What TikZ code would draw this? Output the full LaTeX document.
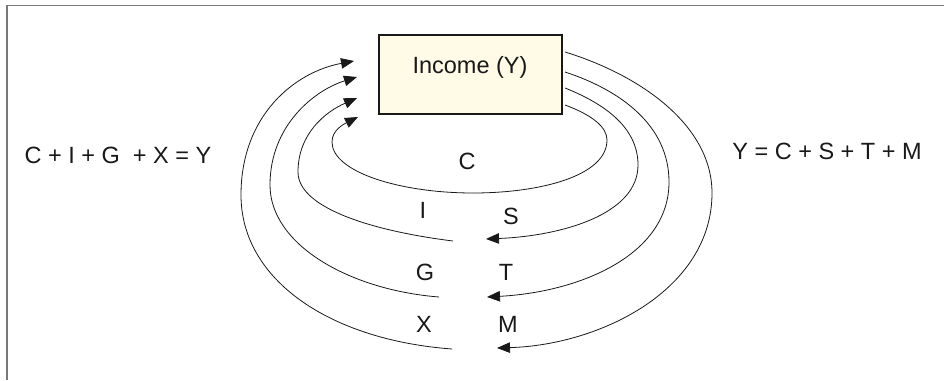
\documentclass[tikz,border=0pt]{standalone}
\usepackage{fontspec}
\setmainfont{Liberation Sans}
\usetikzlibrary{arrows.meta}
\definecolor{cream}{RGB}{255,251,230}
\definecolor{framegray}{RGB}{120,120,120}
\begin{document}
\begin{tikzpicture}[x=1pt,y=-1pt,
  txt/.style={font=\fontsize{23.5}{28}\selectfont, inner sep=0pt, anchor=base, text=black!90},
  flow/.style={line width=0.8pt, draw=black!90},
  arr/.style={flow, -{Triangle[length=13pt,width=10.5pt]}},
  incbox/.style={draw=black!90, line width=2.4pt, fill=cream, minimum width=183pt, minimum height=79pt, inner sep=0pt}
]
\useasboundingbox (0,0) rectangle (944,380);
\draw[framegray, line width=1.5pt] (7,380) -- (7,5.5) -- (944,5.5);

\node[incbox] (inc) at (470.5,74.5) {};
\node[txt] (inct) at (470,73) {Income (Y)};

\node[txt] (leq) at (118,163) {C + I + G \ + X = Y};
\node[txt] (req) at (827,159) {Y = C + S + T + M};

\node[txt] (lC) at (467,169) {C};
\node[txt] (lI) at (423,218) {I};
\node[txt] (lS) at (511,224) {S};
\node[txt] (lG) at (425,280) {G};
\node[txt] (lT) at (506,280) {T};
\node[txt] (lX) at (424,332) {X};
\node[txt] (lM) at (508,332) {M};

% start points on the box's right side
\coordinate (sM) at (565,52);
\coordinate (sT) at (565,72);
\coordinate (sS) at (565,88);
\coordinate (sC) at (565,105);
% arrow tips on the right loops
\coordinate (eS) at (486,239);
\coordinate (eT) at (487,297);
\coordinate (eM) at (497,348);
% starts of the left loops
\coordinate (sI) at (453,241);
\coordinate (sG) at (439,297);
\coordinate (sX) at (452,349);
% arrow tips at the left of the box
\coordinate (eX) at (354,61);
\coordinate (eG) at (357,77);
\coordinate (eI) at (357,98);
\coordinate (eC) at (358,117);

% C loop
\draw[arr] (sC) .. controls (592,115) and (607,127) .. (607,140)
  .. controls (607,176) and (540,193) .. (473,193)
  .. controls (400,193) and (332,172) .. (332,142)
  .. controls (332,130) and (344,124) .. (eC);

% S loop
\draw[arr] (sS) .. controls (600,102) and (638,125) .. (638,165)
  .. controls (638,215) and (560,236) .. (eS);
% T loop
\draw[arr] (sT) .. controls (620,90) and (669,125) .. (669,182)
  .. controls (669,255) and (580,292) .. (eT);
% M loop
\draw[arr] (sM) .. controls (640,75) and (712,125) .. (712,193)
  .. controls (712,290) and (600,345) .. (eM);

% I loop
\draw[arr] (sI) .. controls (380,232) and (298,210) .. (298,172)
  .. controls (298,134) and (325,112) .. (eI);
% G loop
\draw[arr] (sG) .. controls (350,290) and (270,245) .. (270,185)
  .. controls (270,125) and (315,90) .. (eG);
% X loop
\draw[arr] (sX) .. controls (330,340) and (241,280) .. (241,195)
  .. controls (241,115) and (295,72) .. (eX);
\end{tikzpicture}
\end{document}
